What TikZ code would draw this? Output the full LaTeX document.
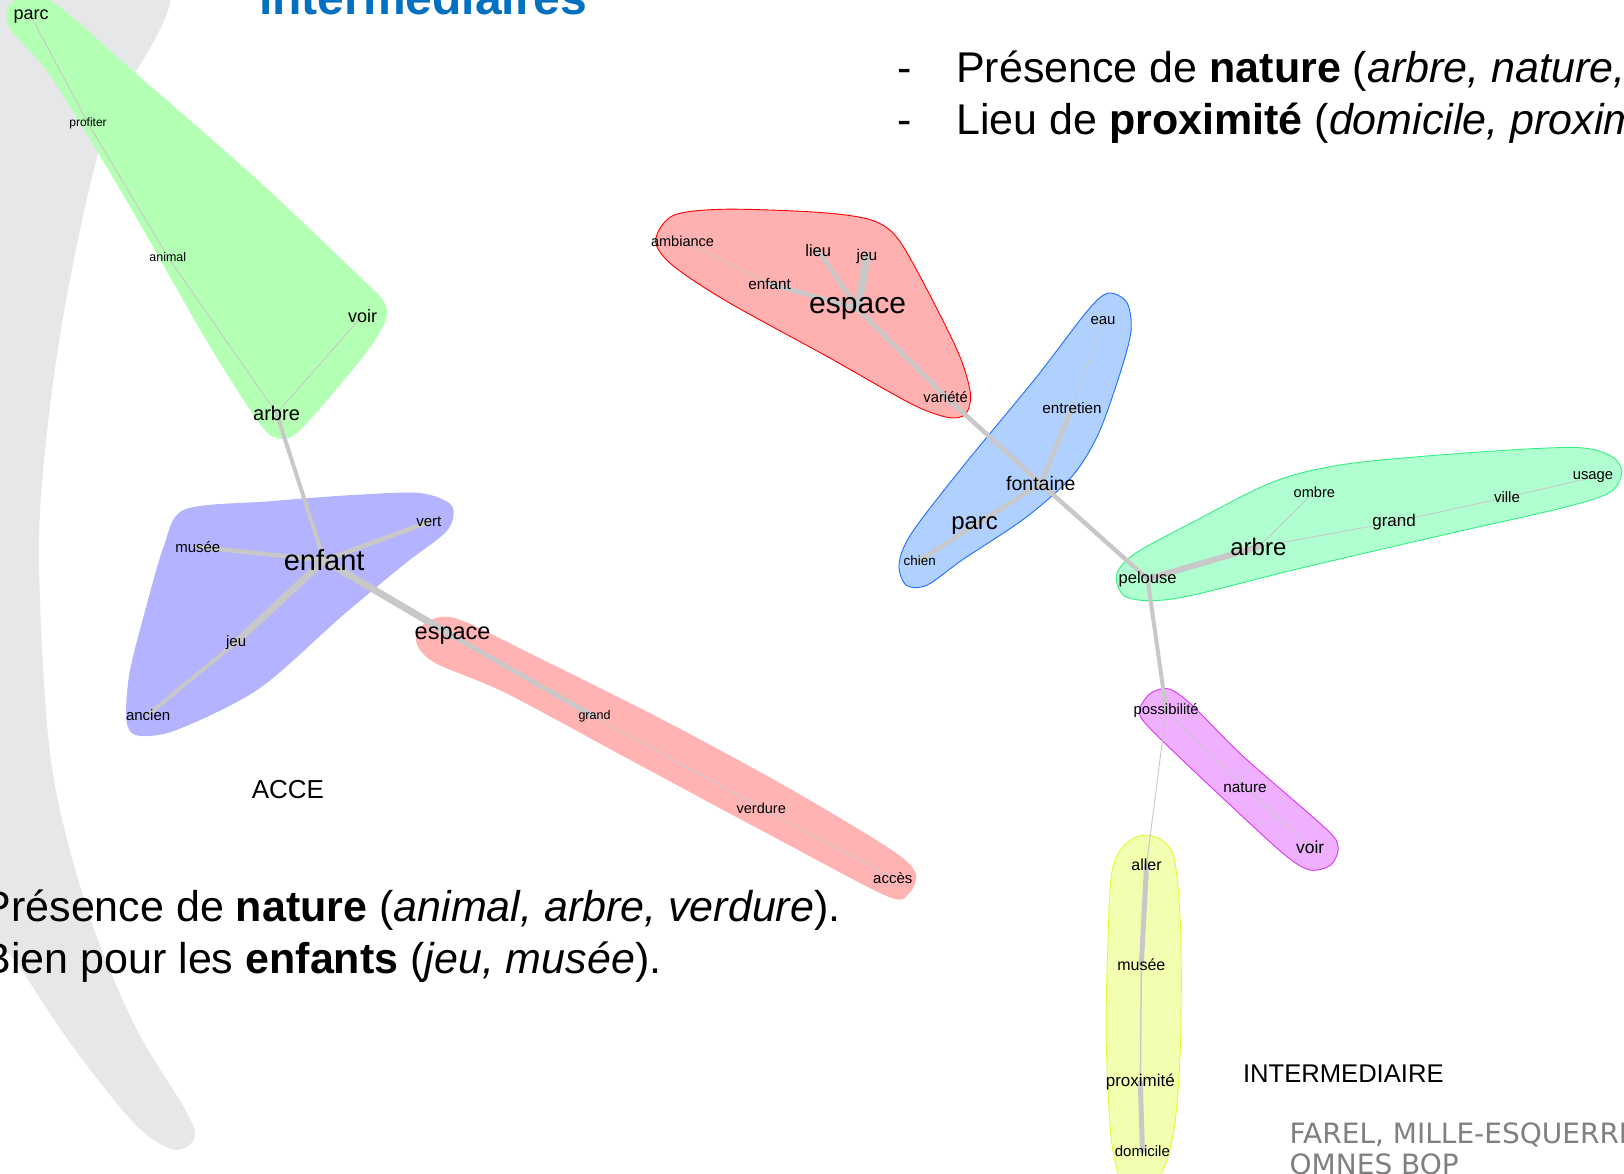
\documentclass[tikz,border=0pt]{standalone}
\usepackage{fontspec}
\setmainfont{Liberation Sans}
\newfontfamily\footfont{DejaVu Sans}
\newcommand\lfs[1]{\fontsize{#1}{#1}\selectfont}
\definecolor{cres}{RGB}{230,231,232}
\definecolor{edgec}{RGB}{200,200,200}
\definecolor{lgreen}{RGB}{179,255,179}
\definecolor{lblue}{RGB}{179,179,255}
\definecolor{lred}{RGB}{255,179,179}
\definecolor{rredf}{RGB}{255,176,176}
\definecolor{rredd}{RGB}{255,0,0}
\definecolor{rbluef}{RGB}{176,208,255}
\definecolor{rblued}{RGB}{30,110,255}
\definecolor{rgreenf}{RGB}{176,255,208}
\definecolor{rgreend}{RGB}{50,240,130}
\definecolor{magf}{RGB}{238,176,255}
\definecolor{magd}{RGB}{220,50,255}
\definecolor{yelf}{RGB}{240,255,176}
\definecolor{yeld}{RGB}{220,255,50}
\definecolor{titleblue}{RGB}{0,112,192}
\definecolor{footgrey}{RGB}{128,128,128}
\pgfdeclarelayer{crescentlayer}
\pgfdeclarelayer{hulllayer}
\pgfdeclarelayer{edgelayer}
\pgfsetlayers{crescentlayer,hulllayer,edgelayer,main}
\tikzset{
  lab/.style={font=\lfs{#1}, inner sep=0pt, text=black},
  ed/.style={draw=edgec, line cap=round},
  thinedge/.style={ed, line width=0.9pt},
  midedge/.style={ed, line width=4.5pt},
  fatedge/.style={ed, line width=7pt},
  hullline/.style={line width=0.9pt},
  bigtext/.style={font=\lfs{43}, inner sep=0pt, anchor=base west, text=black},
}
\begin{document}
\begin{tikzpicture}[x=1.0357pt,y=-1.0357pt]
\useasboundingbox (0,0) rectangle (1568,1133);

% background crescent
\begin{pgfonlayer}{crescentlayer}
\begin{scope}
\clip (0,0) rectangle (1568,1133);
\fill[white] (0,0) rectangle (1568,1133);
\fill[cres] plot[smooth cycle, tension=0.55] coordinates {
  (-60,-40) (160,-20) (100,130) (62,300) (42,450) (38,560) (50,740) (85,880)
  (130,990) (178,1070) (188,1098) (168,1110) (130,1085) (70,1010) (20,935)
  (-40,840) (-80,500)};
\end{scope}
\end{pgfonlayer}

% hulls
\begin{pgfonlayer}{hulllayer}
\begin{scope}
\clip (0,0) rectangle (1568,1133);
% left cluster
\fill[lgreen] plot[smooth cycle, tension=0.5] coordinates {
  (10,4) (45,-2) (130,70) (250,175) (345,265) (370,290) (372,310) (350,345)
  (290,415) (268,423) (250,408) (200,330) (120,190) (50,75) (10,28)};
\fill[lblue] plot[smooth cycle, tension=0.5] coordinates {
  (178,492) (260,484) (340,478) (405,476) (436,488) (432,512) (390,545)
  (330,595) (250,665) (170,705) (132,710) (122,695) (125,650) (140,590) (158,528)};
\fill[lred] plot[smooth cycle, tension=0.5] coordinates {
  (410,602) (440,597) (520,635) (640,695) (760,760) (860,820) (884,843)
  (878,862) (858,866) (760,815) (620,740) (490,670) (420,640) (402,620)};
% right cluster
\filldraw[fill=rredf, draw=rredd, hullline] plot[smooth cycle, tension=0.5] coordinates {
  (633,232) (650,208) (700,202) (790,205) (840,212) (865,228) (890,270)
  (925,340) (937,380) (932,400) (915,403) (880,390) (800,345) (700,290) (648,255)};
\filldraw[fill=rbluef, draw=rblued, hullline] plot[smooth cycle, tension=0.5] coordinates {
  (1070,283) (1088,292) (1092,320) (1080,365) (1060,420) (1035,460) (990,500)
  (930,540) (895,565) (875,565) (868,545) (880,515) (930,450) (1000,365) (1050,300)};
\filldraw[fill=rgreenf, draw=rgreend, hullline] plot[smooth cycle, tension=0.5] coordinates {
  (1078,555) (1095,535) (1150,505) (1230,465) (1300,448) (1420,437) (1520,432)
  (1555,440) (1566,455) (1555,475) (1510,490) (1400,515) (1250,550) (1150,575)
  (1110,580) (1085,575)};
\filldraw[fill=magf, draw=magd, hullline] plot[smooth cycle, tension=0.5] coordinates {
  (1100,688) (1110,670) (1128,665) (1150,680) (1200,730) (1280,800) (1292,818)
  (1285,835) (1265,840) (1240,825) (1180,770) (1115,708)};
\filldraw[fill=yelf, draw=yeld, hullline] plot[smooth cycle, tension=0.5] coordinates {
  (1082,820) (1100,807) (1120,810) (1134,830) (1140,900) (1140,1000) (1135,1080)
  (1125,1125) (1110,1145) (1085,1145) (1073,1100) (1068,1000) (1070,900) (1073,845)};
\end{scope}
\end{pgfonlayer}

% ---- left graph labels
\node[lab=18] (Lparc) at (30,16) {parc};
\node[lab=12] (Lprofiter) at (85,119) {profiter};
\node[lab=12.5] (Lanimal) at (162,248) {animal};
\node[lab=18] (Lvoir) at (350,305) {voir};
\node[lab=20] (Larbre) at (267,399) {arbre};
\node[lab=29] (Lenfant) at (313,541) {enfant};
\node[lab=15] (Lmusee) at (191,528) {musée};
\node[lab=15] (Lvert) at (414,504) {vert};
\node[lab=15] (Ljeu) at (228,620) {jeu};
\node[lab=15] (Lancien) at (143,690) {ancien};
\node[lab=23.5] (Lespace) at (437,614) {espace};
\node[lab=12.5] (Lgrand) at (574,692) {grand};
\node[lab=14.5] (Lverdure) at (735,780) {verdure};
\node[lab=15] (Lacces) at (862,848) {accès};

% ---- right graph labels
\node[lab=14.5] (Rambiance) at (659,233) {ambiance};
\node[lab=16.5] (Rlieu) at (790,242) {lieu};
\node[lab=15.5] (Rjeu) at (837,248) {jeu};
\node[lab=15.3] (Renfant) at (743,274) {enfant};
\node[lab=30] (Respace) at (828,298) {espace};
\node[lab=14.8] (Rvariete) at (913,383) {variété};
\node[lab=15] (Reau) at (1065,309) {eau};
\node[lab=15.2] (Rentretien) at (1035,394) {entretien};
\node[lab=19.5] (Rfontaine) at (1005,467) {fontaine};
\node[lab=24] (Rparc) at (941,507) {parc};
\node[lab=13.4] (Rchien) at (888,541) {chien};
\node[lab=16.5] (Rpelouse) at (1108,559) {pelouse};
\node[lab=24] (Rarbre) at (1215,528) {arbre};
\node[lab=14.6] (Rombre) at (1269,475) {ombre};
\node[lab=17] (Rgrand) at (1346,504) {grand};
\node[lab=15] (Rville) at (1455,480) {ville};
\node[lab=14.8] (Rusage) at (1538,461) {usage};
\node[lab=14.8] (Rposs) at (1126,686) {possibilité};
\node[lab=15.3] (Rnature) at (1202,760) {nature};
\node[lab=17.4] (Rvoir) at (1265,818) {voir};
\node[lab=16] (Raller) at (1107,835) {aller};
\node[lab=16] (Rmusee) at (1102,931) {musée};
\node[lab=17] (Rprox) at (1101,1045) {proximité};
\node[lab=15] (Rdomicile) at (1103,1111) {domicile};

% ---- edges
\begin{pgfonlayer}{edgelayer}
\draw[thinedge] (Lparc.center) -- (Lprofiter.center);
\draw[thinedge] (Lprofiter.center) -- (Lanimal.center);
\draw[thinedge] (Lanimal.center) -- (Larbre.center);
\draw[thinedge] (Lvoir.center) -- (Larbre.center);
\draw[ed, line width=4pt] (Larbre.center) -- (Lenfant.center);
\draw[midedge] (Lenfant.center) -- (Lmusee.center);
\draw[midedge] (Lenfant.center) -- (Lvert.center);
\draw[fatedge] (Lenfant.center) -- (Ljeu.center);
\draw[ed, line width=4pt] (Ljeu.center) -- (Lancien.center);
\draw[fatedge] (Lenfant.center) -- (Lespace.center);
\draw[midedge] (Lespace.center) -- (Lgrand.center);
\draw[thinedge] (Lgrand.center) -- (Lverdure.center);
\draw[thinedge] (Lverdure.center) -- (Lacces.center);

\draw[thinedge] (Rambiance.center) -- (Renfant.center);
\draw[midedge] (Renfant.center) -- (Respace.center);
\draw[midedge] (Rlieu.center) -- (Respace.center);
\draw[ed, line width=8pt] (Rjeu.center) -- (Respace.center);
\draw[midedge] (Respace.center) -- (Rvariete.center);
\draw[midedge] (Rvariete.center) -- (Rfontaine.center);
\draw[midedge] (Rfontaine.center) -- (Rpelouse.center);
\draw[thinedge] (Reau.center) -- (Rentretien.center);
\draw[midedge] (Rentretien.center) -- (Rfontaine.center);
\draw[midedge] (Rfontaine.center) -- (Rparc.center);
\draw[midedge] (Rparc.center) -- (Rchien.center);
\draw[ed, line width=6pt] (Rpelouse.center) -- (Rarbre.center);
\draw[thinedge] (Rarbre.center) -- (Rombre.center);
\draw[thinedge] (Rarbre.center) -- (Rgrand.center);
\draw[thinedge] (Rgrand.center) -- (Rville.center);
\draw[thinedge] (Rville.center) -- (Rusage.center);
\draw[ed, line width=4pt] (Rpelouse.center) -- (Rposs.center);
\draw[thinedge] (Rposs.center) -- (Rnature.center);
\draw[thinedge] (Rnature.center) -- (Rvoir.center);
\draw[thinedge] (Rposs.center) -- (Raller.center);
\draw[ed, line width=5pt] (Raller.center) -- (Rmusee.center);
\draw[ed, line width=1.5pt] (Rmusee.center) -- (Rprox.center);
\draw[ed, line width=5pt] (Rprox.center) -- (Rdomicile.center);
\end{pgfonlayer}

% ---- texts
\begin{scope}
\clip (0,0) rectangle (1568,1133);
\node[font=\bfseries\lfs{48}, text=titleblue, inner sep=0pt, anchor=base west] (title) at (250,14) {intermédiaires};
\node[bigtext] (dashA) at (866,80) {-};
\node[bigtext] (topA) at (923,80) {Présence de \textbf{nature} (\textit{arbre, nature,}};
\node[bigtext] (dashB) at (866,130) {-};
\node[bigtext] (topB) at (923,130) {Lieu de \textbf{proximité} (\textit{domicile, proxim}};
\node[bigtext] (botA) at (-17,890) {Présence de \textbf{nature} (\textit{animal, arbre, verdure}).};
\node[bigtext] (botB) at (-17,940) {Bien pour les \textbf{enfants} (\textit{jeu, musée}).};
\node[font=\lfs{26}, inner sep=0pt, anchor=base] (acce) at (278,771) {ACCE};
\node[font=\lfs{25.6}, inner sep=0pt, anchor=base] (inter) at (1297,1045) {INTERMEDIAIRE};
\node[font=\footfont\lfs{28}, text=footgrey, inner sep=0pt, anchor=base west] (footA) at (1245,1104) {FAREL, MILLE-ESQUERRE};
\node[font=\footfont\lfs{28}, text=footgrey, inner sep=0pt, anchor=base west] (footB) at (1245,1134) {OMNES BOP};
\end{scope}
\end{tikzpicture}
\end{document}
